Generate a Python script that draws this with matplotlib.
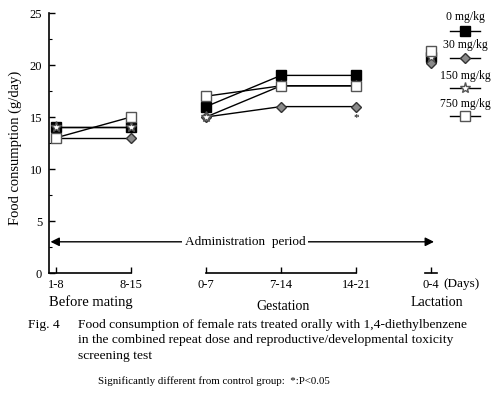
import matplotlib
matplotlib.use("Agg")
import matplotlib.pyplot as plt
from matplotlib.lines import Line2D
import numpy as np

plt.rcParams['font.family'] = ['Liberation Serif', 'DejaVu Serif']

# ---- data ----
periods = ["1-8", "8-15", "0-7", "7-14", "14-21", "0-4"]
groups = ["Before mating", "Gestation", "Lactation"]
group_members = [[0, 1], [2, 3, 4], [5]]
doses = ["0 mg/kg", "30 mg/kg", "150 mg/kg", "750 mg/kg"]
food_0 = [14, 14, 16, 19, 19, 20.8]
food_30 = [13, 13, 15, 16, 16, 20.2]
food_150 = [14, 14, 15, 18, 18, 20.8]
food_750 = [13, 15, 17, 18, 18, 21.3]
significant_30 = [4]  # index of period with * (30 mg/kg)
yticks = [0, 5, 10, 15, 20, 25]

series = [food_0, food_30, food_150, food_750]
styles = [
    dict(marker='s', ms=7, mfc='black', mec='black'),
    dict(marker='D', ms=5.5, mfc='#8a8a8a', mec='#333333'),
    dict(marker='*', ms=8, mfc='white', mec='#555555'),
    dict(marker='s', ms=6.5, mfc='white', mec='#555555'),
]
draw_order = [0, 3, 1, 2]

W, H = 495, 396
fig = plt.figure(figsize=(W / 100, H / 100), dpi=100)
ax_left, ax_right, ax_bottom, ax_top = 49, 490, 273, 13
ax = fig.add_axes([ax_left / W, 1 - ax_bottom / H, (ax_right - ax_left) / W, (ax_bottom - ax_top) / H])

unit = 75.0
x0pix = 56
xpos = np.arange(len(periods))
xmin = (ax_left - x0pix) / unit
xmax = (ax_right - x0pix) / unit
ax.set_xlim(xmin, xmax)
ax.set_ylim(0, 25)

for sp in ['top', 'right', 'bottom']:
    ax.spines[sp].set_visible(False)
ax.spines['left'].set_linewidth(1.2)

ax.set_yticks(yticks)
ax.set_yticks(np.arange(0, 25.1, 2.5), minor=True)
ax.tick_params(axis='y', which='major', direction='in', length=4, width=1, labelsize=9, pad=5)
ax.tick_params(axis='y', which='minor', direction='in', length=2.5, width=0.8)
ax.set_xticks(xpos)
ax.set_xticklabels(periods)
ax.tick_params(axis='x', direction='in', length=4, width=1, labelsize=9, pad=4)

# baseline segments per group
for gi, mem in enumerate(group_members):
    if len(mem) == 1:
        a, b = xpos[mem[0]] - 0.08, xpos[mem[0]] + 0.08
    else:
        a, b = xpos[mem[0]], xpos[mem[-1]]
    if gi == 0:
        a = xmin
    ax.plot([a, b], [0, 0], color='black', lw=1.2, clip_on=False)

# data lines per group
for si in draw_order:
    vals = series[si]
    for mem in group_members:
        xs = [xpos[i] for i in mem]
        ys = [vals[i] for i in mem]
        ax.plot(xs, ys, color='black', lw=1.0, zorder=3 + si * 0.1, **styles[si])

for i in significant_30:
    ax.annotate('*', xy=(xpos[i], food_30[i]), xytext=(0, -8), textcoords='offset points',
                ha='center', va='center', fontsize=8)

# administration period arrow
ay = 3.0
ax.annotate('', xy=(xmin + 0.02, ay), xytext=(xpos[-1] + 0.04, ay),
            arrowprops=dict(arrowstyle='<|-|>', color='black', lw=1.0, mutation_scale=13,
                            shrinkA=0, shrinkB=0), annotation_clip=False)
ax.text(2.52, ay, 'Administration  period', ha='center', va='center', fontsize=9.5,
        bbox=dict(facecolor='white', edgecolor='none', pad=2), zorder=5)

def ftext(px, py, s, **kw):
    fig.text(px / W, 1 - py / H, s, **kw)

ftext(15, 148, 'Food consumption (g/day)', rotation=90, ha='center', va='center', fontsize=10.5)
ftext(462, 284, '(Days)', ha='center', va='center', fontsize=9.5)

# group labels
group_px = [(91, 302), (283, 306), (437, 302)]
group_fs = [10.5, 10, 10]
for g, (gx, gy), fs in zip(groups, group_px, group_fs):
    ftext(gx, gy, g, ha='center', va='center', fontsize=fs)

# legend (label above sample line)
leg_y = [(17, 31), (45, 58), (76, 88), (104, 116)]
for si, (ty, ly) in enumerate(leg_y):
    ftext(465, ty, doses[si], ha='center', va='center', fontsize=8.5)
    fig.add_artist(Line2D([450 / W, 480 / W], [1 - ly / H, 1 - ly / H], color='black', lw=1.0))
    fig.add_artist(Line2D([465 / W], [1 - ly / H], linestyle='none', **styles[si]))

# caption
ftext(28, 325, 'Fig. 4', ha='left', va='center', fontsize=9.7)
cap = ['Food consumption of female rats treated orally with 1,4-diethylbenzene',
       'in the combined repeat dose and reproductive/developmental toxicity',
       'screening test']
for k, line in enumerate(cap):
    ftext(78, 325 + 15.5 * k, line, ha='left', va='center', fontsize=9.7)
ftext(98, 381, 'Significantly different from control group:  *:P<0.05', ha='left', va='center', fontsize=7.8)

fig.savefig('out.png', dpi=100)
